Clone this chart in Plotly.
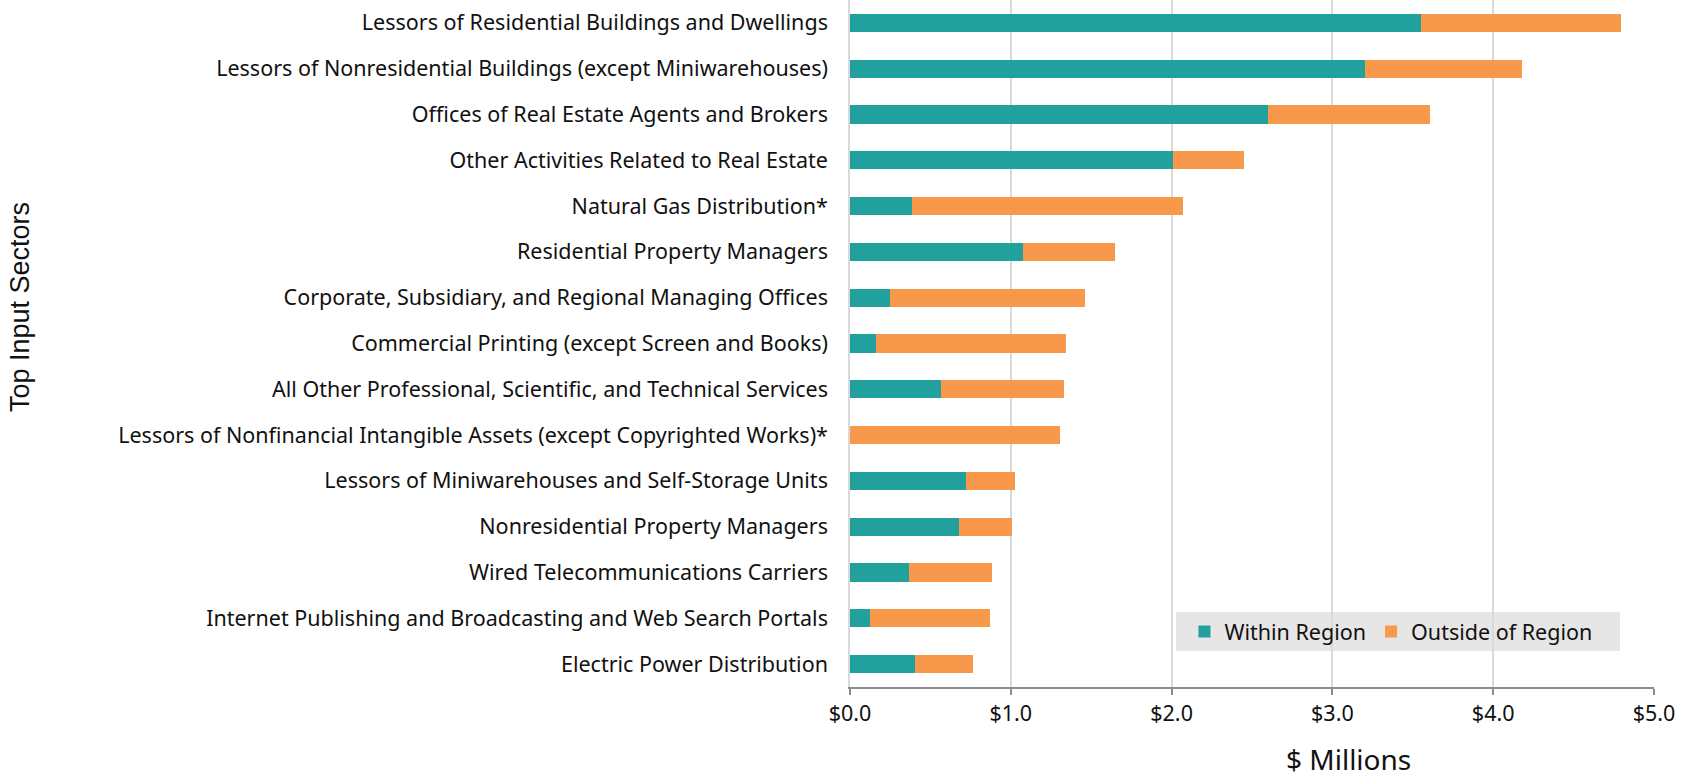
import plotly.graph_objects as go

# top input sectors, top to bottom as drawn
sectors = [
    "Lessors of Residential Buildings and Dwellings",
    "Lessors of Nonresidential Buildings (except Miniwarehouses)",
    "Offices of Real Estate Agents and Brokers",
    "Other Activities Related to Real Estate",
    "Natural Gas Distribution*",
    "Residential Property Managers",
    "Corporate, Subsidiary, and Regional Managing Offices",
    "Commercial Printing (except Screen and Books)",
    "All Other Professional, Scientific, and Technical Services",
    "Lessors of Nonfinancial Intangible Assets (except Copyrighted Works)*",
    "Lessors of Miniwarehouses and Self-Storage Units",
    "Nonresidential Property Managers",
    "Wired Telecommunications Carriers",
    "Internet Publishing and Broadcasting and Web Search Portals",
    "Electric Power Distribution",
]
# $ millions
within = [3.548, 3.204, 2.600, 2.006, 0.384, 1.078, 0.250, 0.164, 0.567, 0.0,
          0.724, 0.678, 0.367, 0.127, 0.407]
outside = [1.245, 0.975, 1.005, 0.444, 1.689, 0.571, 1.212, 1.181, 0.765, 1.305,
           0.301, 0.327, 0.518, 0.741, 0.357]
xticks = [0, 1, 2, 3, 4, 5]
xticklabels = ["$0.0", "$1.0", "$2.0", "$3.0", "$4.0", "$5.0"]

teal = "#21A09D"
orange = "#F7984A"
txtfont = "Noto Sans, Liberation Sans, sans-serif"

fig = go.Figure()
fig.add_trace(go.Bar(y=sectors, x=within, name="Within Region", orientation="h",
                     marker=dict(color=teal, line=dict(width=0))))
fig.add_trace(go.Bar(y=sectors, x=outside, name="Outside of Region", orientation="h",
                     marker=dict(color=orange, line=dict(width=0))))

fig.update_layout(
    width=1683, height=779,
    barmode="stack", bargap=0.6,
    plot_bgcolor="white", paper_bgcolor="white",
    margin=dict(l=850, r=29, t=0, b=92),
    font=dict(family=txtfont, size=21.5, color="#111111"),
    legend=dict(orientation="h", x=0.416, y=0.0808, xanchor="left", yanchor="middle",
                bgcolor="rgba(0,0,0,0)", font=dict(family=txtfont, size=21.5),
                itemwidth=30, traceorder="normal"),
)
# grey legend box
fig.add_shape(type="rect", xref="paper", yref="paper", x0=0.4055, x1=0.9577, y0=0.0524, y1=0.109,
              fillcolor="#E6E6E6", line=dict(width=0), layer="below")

fig.update_xaxes(range=[0, 5], tickvals=xticks, ticktext=xticklabels,
                 showgrid=True, gridcolor="#D9D9D9", gridwidth=1.5,
                 showline=True, linecolor="#8C8C8C", linewidth=2,
                 ticks="outside", ticklen=6, tickcolor="#8C8C8C", tickwidth=2,
                 zeroline=False, automargin=False)
fig.update_yaxes(autorange="reversed", showline=True, linecolor="#D9D9D9", linewidth=1.5,
                 ticks="", ticklabelstandoff=16, automargin=False)

fig.add_annotation(text="$ Millions", xref="paper", yref="paper", x=0.6206, y=0,
                   yshift=-72, xanchor="center", yanchor="middle", showarrow=False,
                   font=dict(family=txtfont, size=28))
fig.add_annotation(text="Top Input Sectors", xref="paper", yref="paper", x=0, y=0.553,
                   xshift=-830, xanchor="center", yanchor="middle", textangle=-90,
                   showarrow=False, font=dict(family="Liberation Sans, Arial", size=27))

fig.write_html("out.html", config={"displayModeBar": False},
               post_script="document.body.style.margin='0';")
